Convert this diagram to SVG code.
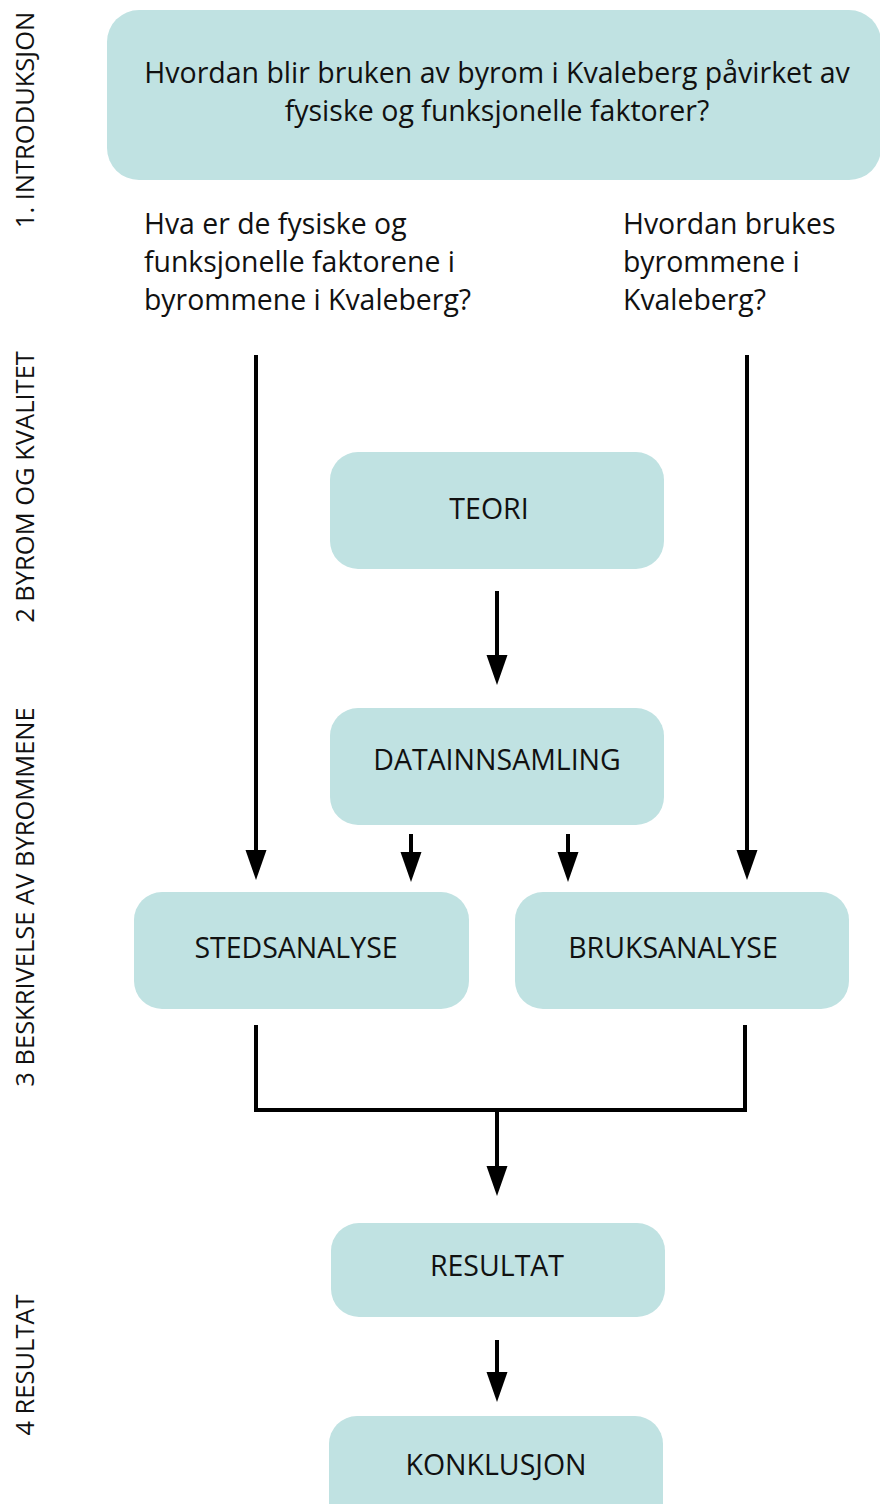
<svg xmlns="http://www.w3.org/2000/svg" width="880" height="1504" viewBox="0 0 880 1504">
  <defs>
    <style>
      .box { fill: #c0e2e2; }
      .t { font-family: "Open Sans", "Liberation Sans", sans-serif; fill: #111; }
      .lbl { font-size: 28.5px; text-anchor: middle; }
      .title { font-size: 28.5px; text-anchor: middle; }
      .q { font-size: 28.4px; }
      .side { font-size: 25.5px; text-anchor: middle; }
      .line { stroke: #000; stroke-width: 4; fill: none; }
    </style>
    <!-- filled arrowhead; the line stops at its base and the head extends past -->
    <marker id="arrow" markerUnits="userSpaceOnUse" markerWidth="32" markerHeight="22" refX="1" refY="10.5" orient="auto" viewBox="0 0 32 21">
      <path d="M0 0 L30 10.5 L0 21 Z" fill="#000"/>
    </marker>
  </defs>
  <rect width="880" height="1504" fill="#fff"/>

  <!-- phase labels down the left margin -->
  <g id="phases" class="t side">
    <text transform="translate(34 120) rotate(-90)">1. INTRODUKSJON</text>
    <text transform="translate(34 487) rotate(-90)">2 BYROM OG KVALITET</text>
    <text transform="translate(34 897) rotate(-90)">3 BESKRIVELSE AV BYROMMENE</text>
    <text transform="translate(34 1365) rotate(-90)">4 RESULTAT</text>
  </g>

  <g id="research-question">
    <rect class="box" x="107" y="10" width="774" height="170" rx="32"/>
    <text class="t title" x="497" y="83">Hvordan blir bruken av byrom i Kvaleberg påvirket av</text>
    <text class="t title" x="497" y="121">fysiske og funksjonelle faktorer?</text>
  </g>

  <g id="sub-question-1" class="t q">
    <text x="144" y="234">Hva er de fysiske og</text>
    <text x="144" y="272">funksjonelle faktorene i</text>
    <text x="144" y="310">byrommene i Kvaleberg?</text>
  </g>

  <g id="sub-question-2" class="t q">
    <text x="623" y="234">Hvordan brukes</text>
    <text x="623" y="272">byrommene i</text>
    <text x="623" y="310">Kvaleberg?</text>
  </g>

  <g id="teori">
    <rect class="box" x="330" y="452" width="334" height="117" rx="28"/>
    <text class="t lbl" x="489" y="519">TEORI</text>
  </g>

  <g id="datainnsamling">
    <rect class="box" x="330" y="708" width="334" height="117" rx="28"/>
    <text class="t lbl" x="497" y="770">DATAINNSAMLING</text>
  </g>

  <g id="stedsanalyse">
    <rect class="box" x="134" y="892" width="335" height="117" rx="28"/>
    <text class="t lbl" x="296" y="958">STEDSANALYSE</text>
  </g>

  <g id="bruksanalyse">
    <rect class="box" x="515" y="892" width="334" height="117" rx="28"/>
    <text class="t lbl" x="673" y="958">BRUKSANALYSE</text>
  </g>

  <g id="resultat">
    <rect class="box" x="331" y="1223" width="334" height="94" rx="28"/>
    <text class="t lbl" x="497" y="1276">RESULTAT</text>
  </g>

  <g id="konklusjon">
    <rect class="box" x="329" y="1416" width="334" height="120" rx="28"/>
    <text class="t lbl" x="496" y="1475">KONKLUSJON</text>
  </g>

  <g id="connectors" class="line">
    <line x1="256" y1="355" x2="256" y2="851" marker-end="url(#arrow)"/>
    <line x1="747" y1="355" x2="747" y2="851" marker-end="url(#arrow)"/>
    <line x1="497" y1="591" x2="497" y2="656" marker-end="url(#arrow)"/>
    <line x1="411" y1="834" x2="411" y2="853" marker-end="url(#arrow)"/>
    <line x1="568" y1="834" x2="568" y2="853" marker-end="url(#arrow)"/>
    <polyline points="256,1027 256,1110 745,1110 745,1027" stroke-linecap="square"/>
    <line x1="497" y1="1110" x2="497" y2="1167" marker-end="url(#arrow)"/>
    <line x1="497" y1="1340" x2="497" y2="1373" marker-end="url(#arrow)"/>
  </g>
</svg>
